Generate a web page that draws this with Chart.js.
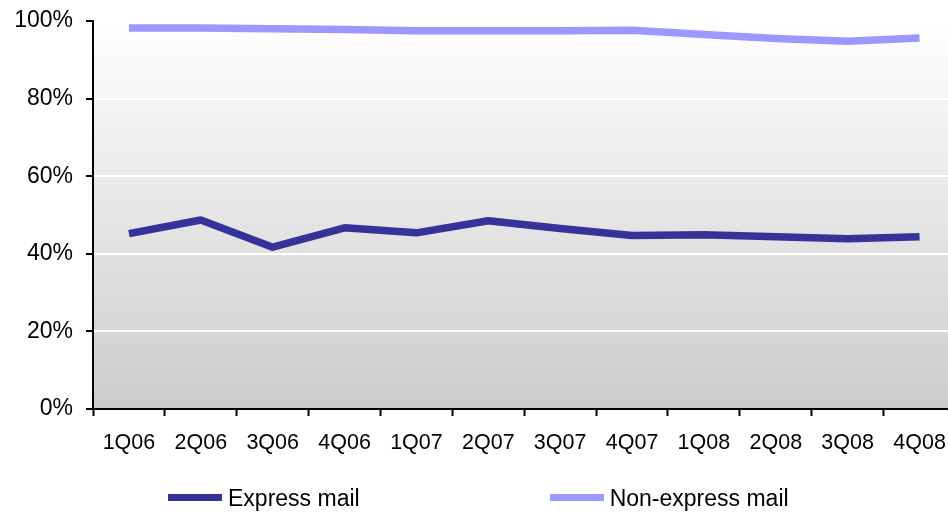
<!DOCTYPE html>
<html>
<head>
<meta charset="utf-8">
<script src="https://cdn.jsdelivr.net/npm/chart.js@4.4.0/dist/chart.umd.min.js"></script>
<style>
    html, body { margin: 0; padding: 0; background: #fff; overflow: hidden; }
    #wrap { position: relative; width: 960px; height: 513px; }
    #leyenda {
        position: absolute; left: 168px; top: 484px; height: 28px;
        display: flex; align-items: center; gap: 190px;
        font-family: "Liberation Sans", Arial, sans-serif; font-size: 23px; color: #000;
        white-space: nowrap;
    }
    .item { display: flex; align-items: center; }
    .muestra { width: 54px; height: 7px; margin-right: 6px; position: relative; top: -1px; }
</style>
</head>
<body>
<div id="wrap">
    <canvas id="graficoCorreo" width="960" height="513"></canvas>
    <div id="leyenda"></div>
</div>
<script>
const trimestres = ["1Q06", "2Q06", "3Q06", "4Q06", "1Q07", "2Q07", "3Q07", "4Q07", "1Q08", "2Q08", "3Q08", "4Q08"];
const correoExpreso = [45.2, 48.7, 41.7, 46.7, 45.4, 48.5, 46.5, 44.7, 44.9, 44.4, 43.9, 44.4];
const correoNoExpreso = [98.2, 98.2, 98.0, 97.8, 97.5, 97.5, 97.5, 97.6, 96.5, 95.5, 94.8, 95.6];
const ticksY = [0, 20, 40, 60, 80, 100];

const series = [
    { nombre: "Express mail", datos: correoExpreso, color: "#333399" },
    { nombre: "Non-express mail", datos: correoNoExpreso, color: "#9999FF" }
];

const fuente = "'Liberation Sans', Arial, sans-serif";

// Fondo degradado del area de trazado (blanco arriba, gris abajo)
const fondoDegradado = {
    id: "fondoDegradado",
    beforeDraw(chart) {
        const { ctx, chartArea } = chart;
        const g = ctx.createLinearGradient(0, chartArea.top, 0, chartArea.bottom);
        g.addColorStop(0, "#FFFFFF");
        g.addColorStop(1, "#CCCCCC");
        ctx.save();
        ctx.fillStyle = g;
        ctx.fillRect(chartArea.left, chartArea.top, chartArea.right - chartArea.left, chartArea.bottom - chartArea.top);
        ctx.restore();
    }
};

new Chart(document.getElementById("graficoCorreo").getContext("2d"), {
    type: "line",
    data: {
        labels: trimestres,
        datasets: series.map(s => ({
            label: s.nombre,
            data: s.datos,
            borderColor: s.color,
            backgroundColor: s.color,
            borderWidth: 7.5,
            borderJoinStyle: "round",
            borderCapStyle: "butt",
            pointRadius: 0,
            tension: 0
        }))
    },
    options: {
        responsive: false,
        animation: false,
        layout: { padding: { top: 21, right: 4, bottom: 54, left: 0 } },
        plugins: {
            legend: { display: false },
            tooltip: { enabled: false }
        },
        scales: {
            x: {
                offset: true,
                grid: { offset: true, drawOnChartArea: false, drawTicks: true, tickLength: 7, tickColor: "#000", tickWidth: 2 },
                border: { display: true, color: "#000", width: 2 },
                ticks: { color: "#000", padding: 14, maxRotation: 0, autoSkip: false, font: { family: fuente, size: 21.5 } },
                afterFit(scale) { scale.height = 50; }
            },
            y: {
                min: 0,
                max: 100,
                afterBuildTicks(scale) { scale.ticks = ticksY.map(v => ({ value: v })); },
                grid: {
                    color: ctx => (ctx.tick && (ctx.tick.value === 0 || ctx.tick.value === 100)) ? "rgba(0,0,0,0)" : "#FFFFFF",
                    lineWidth: 2,
                    tickLength: 7,
                    tickColor: "#000",
                    tickWidth: 2
                },
                border: { display: true, color: "#000", width: 2 },
                ticks: {
                    color: "#000",
                    padding: 13,
                    font: { family: fuente, size: 23 },
                    callback: v => v + "%"
                },
                afterFit(scale) {
                    scale.width = 93;
                    // el margen superior lo fija layout.padding
                    scale.paddingTop = 0;
                    scale.paddingBottom = 0;
                }
            }
        }
    },
    plugins: [fondoDegradado]
});

// Leyenda como HTML debajo del grafico
const leyenda = document.getElementById("leyenda");
series.forEach(s => {
    const item = document.createElement("div");
    item.className = "item";
    const muestra = document.createElement("span");
    muestra.className = "muestra";
    muestra.style.background = s.color;
    const texto = document.createElement("span");
    texto.textContent = s.nombre;
    item.appendChild(muestra);
    item.appendChild(texto);
    leyenda.appendChild(item);
});
</script>
</body>
</html>
